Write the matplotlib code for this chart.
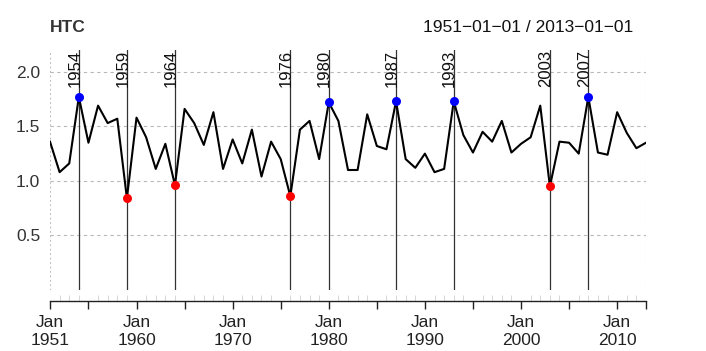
import numpy as np
import matplotlib
matplotlib.use("Agg")
import matplotlib.pyplot as plt
import matplotlib.transforms as mtransforms

plt.rcParams['font.family'] = ['Liberation Sans', 'DejaVu Sans']

# Annual HTC series, 1951-2013
years = list(range(1951, 2014))
htc = [1.36, 1.08, 1.16, 1.77, 1.35, 1.69, 1.53, 1.57, 0.84, 1.58,
       1.40, 1.11, 1.34, 0.96, 1.66, 1.53, 1.33, 1.63, 1.11, 1.38,
       1.16, 1.47, 1.04, 1.36, 1.20, 0.86, 1.47, 1.55, 1.20, 1.72,
       1.55, 1.10, 1.10, 1.61, 1.32, 1.29, 1.73, 1.20, 1.12, 1.25,
       1.08, 1.11, 1.73, 1.42, 1.26, 1.45, 1.36, 1.55, 1.26, 1.34,
       1.40, 1.69, 0.95, 1.36, 1.35, 1.25, 1.77, 1.26, 1.24, 1.63,
       1.44, 1.30, 1.35]

# Highlighted extreme years
high_years = [1954, 1980, 1987, 1993, 2007]
low_years = [1959, 1964, 1976, 2003]
event_years = sorted(high_years + low_years)

y_grid = [0.5, 1.0, 1.5, 2.0]
y_labels = ["0.5", "1.0", "1.5", "2.0"]
major_years = [1951, 1955, 1960, 1965, 1970, 1975, 1980, 1985, 1990,
               1995, 2000, 2005, 2010, 2013]
labelled_years = [1951, 1960, 1970, 1980, 1990, 2000, 2010]

title = "HTC"
period = "1951\u221201\u221201 / 2013\u221201\u221201"

W, H = 706, 351
fig = plt.figure(figsize=(W / 100, H / 100), dpi=100)
x0, x1, ytop, ybot = 50, 646, 50, 290
ax = fig.add_axes([x0 / W, (H - ybot) / H, (x1 - x0) / W, (ybot - ytop) / H])

ymin, ymax = 0.0, 2.2
ax.set_xlim(years[0], years[-1])
ax.set_ylim(ymin, ymax)

for s in ('top', 'right', 'left'):
    ax.spines[s].set_visible(False)
ax.spines['bottom'].set_position(('outward', 8))
ax.spines['bottom'].set_color('#222222')
ax.spines['bottom'].set_linewidth(1.0)

# grid
gridc = '#b8b8b8'
for v in y_grid:
    ax.axhline(v, color=gridc, lw=0.8, ls=(0, (3, 3)), zorder=1)
for xv in (years[0], years[-1]):
    ax.axvline(xv, color=gridc, lw=0.8, ls=(0, (1.5, 2.5)), zorder=1)

# y labels
ax.set_yticks(y_grid)
ax.set_yticklabels(y_labels, fontsize=12.5, color='#333333')
ax.tick_params(axis='y', length=0, pad=7)

# x ticks
ax.set_xticks(major_years)
ax.set_xticklabels([f"Jan\n{y}" if y in labelled_years else "" for y in major_years],
                   fontsize=12.5, color='#222222', linespacing=1.25)
ax.tick_params(axis='x', which='major', direction='out', length=6,
               width=1.0, color='#222222', pad=4)
ax.set_xticks(years, minor=True)
ax.tick_params(axis='x', which='minor', direction='in', length=4,
               width=0.6, color='#d0d0d0')

# event lines
for yr in event_years:
    ax.axvline(yr, color='#333333', lw=0.9, zorder=2)
    ax.annotate(str(yr), xy=(yr, ymax), xycoords='data',
                xytext=(2.5, 0), textcoords='offset points',
                rotation=90, ha='right', va='top', fontsize=12,
                color='#111111', zorder=3)

# series
ax.plot(years, htc, color='black', lw=1.5, zorder=4)
hi_vals = [htc[years.index(y)] for y in high_years]
lo_vals = [htc[years.index(y)] for y in low_years]
ax.plot(high_years, hi_vals, 'o', color='#0000ff', ms=6.5, mec='none', zorder=5)
ax.plot(low_years, lo_vals, 'o', color='#ff0000', ms=6.5, mec='none', zorder=5)

fig.text(x0 / W, 1 - 28 / H, title, fontsize=12.5, fontweight='bold',
         color='#333333', ha='left', va='center')
fig.text(633 / W, 1 - 28 / H, period, fontsize=12.5, color='#111111',
         ha='right', va='center')

fig.savefig("out.png", dpi=100)
